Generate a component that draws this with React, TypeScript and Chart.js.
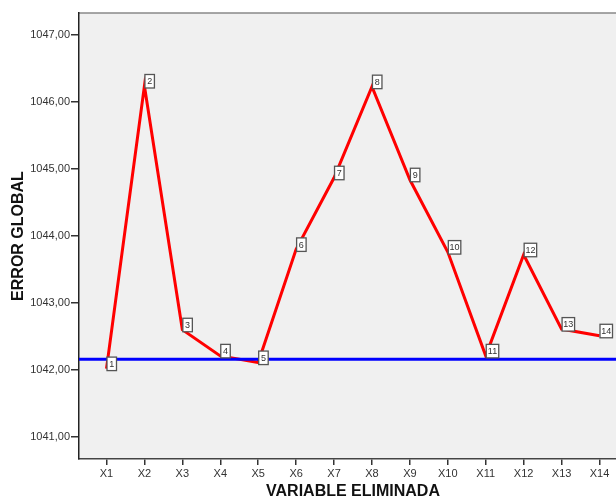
import React, { useEffect, useRef } from "react";
import { Chart, registerables } from "chart.js";

Chart.register(...registerables);

const categories = ["X1", "X2", "X3", "X4", "X5", "X6", "X7", "X8", "X9", "X10", "X11", "X12", "X13", "X14"];
const errorValues = [1042.02, 1046.24, 1042.6, 1042.21, 1042.11, 1043.8, 1044.87, 1046.23, 1044.84, 1043.76, 1042.21, 1043.72, 1042.61, 1042.51];
const pointLabels = ["1", "2", "3", "4", "5", "6", "7", "8", "9", "10", "11", "12", "13", "14"];
const referenceValue = 1042.16;
const yTicks = [1041, 1042, 1043, 1044, 1045, 1046, 1047];

const X_MIN = 0.275;
const X_MAX = 14.725;
const Y_MIN = 1040.67;
const Y_MAX = 1047.33;
const FONT = "'Liberation Sans', Arial, sans-serif";

const bgPlugin = {
  id: "bgPlugin",
  beforeDraw(chart: any) {
    const { ctx, chartArea } = chart;
    ctx.save();
    ctx.fillStyle = "#f0f0f0";
    ctx.fillRect(chartArea.left, chartArea.top, chartArea.right - chartArea.left, chartArea.bottom - chartArea.top);
    ctx.strokeStyle = "#888888";
    ctx.lineWidth = 1.5;
    ctx.beginPath();
    ctx.moveTo(chartArea.left, chartArea.top);
    ctx.lineTo(chartArea.right, chartArea.top);
    ctx.stroke();
    ctx.restore();
  },
};

const labelPlugin = {
  id: "labelPlugin",
  afterDatasetsDraw(chart: any) {
    const { ctx } = chart;
    const meta = chart.getDatasetMeta(0);
    ctx.save();
    ctx.font = `9px ${FONT}`;
    ctx.textAlign = "center";
    ctx.textBaseline = "middle";
    meta.data.forEach((pt: any, i: number) => {
      const text = pointLabels[i];
      const w = text.length > 1 ? 12.5 : 9.5;
      const h = 13.5;
      const left = pt.x + 0.5;
      const bottom = pt.y + 2;
      ctx.fillStyle = "#ffffff";
      ctx.fillRect(left, bottom - h, w, h);
      ctx.strokeStyle = "#555555";
      ctx.lineWidth = 1.3;
      ctx.strokeRect(left, bottom - h, w, h);
      ctx.fillStyle = "#333333";
      ctx.fillText(text, left + w / 2, bottom - h / 2 + 0.5);
    });
    ctx.restore();
  },
};

export default function App() {
  const canvasRef = useRef<HTMLCanvasElement | null>(null);

  useEffect(() => {
    if (!canvasRef.current) return;
    const chart = new Chart(canvasRef.current, {
      type: "line",
      data: {
        datasets: [
          {
            label: "Error global",
            data: errorValues.map((v, i) => ({ x: i + 1, y: v })),
            borderColor: "#ff0000",
            borderWidth: 3,
            pointRadius: 0,
            tension: 0,
            order: 2,
          },
          {
            label: "Referencia",
            data: [
              { x: X_MIN, y: referenceValue },
              { x: X_MAX, y: referenceValue },
            ],
            borderColor: "#0000ff",
            borderWidth: 3,
            pointRadius: 0,
            order: 1,
          },
        ],
      },
      options: {
        responsive: false,
        animation: false,
        layout: { padding: { top: 13, left: 0, right: 0, bottom: 0 } },
        plugins: {
          legend: { display: false },
          tooltip: { enabled: false },
        },
        scales: {
          x: {
            type: "linear",
            min: X_MIN,
            max: X_MAX,
            afterBuildTicks: (scale: any) => {
              scale.ticks = categories.map((_, i) => ({ value: i + 1 }));
            },
            afterFit: (scale: any) => {
              scale.height = 41;
            },
            ticks: {
              autoSkip: false,
              maxRotation: 0,
              padding: 2,
              color: "#333333",
              font: { family: FONT, size: 11 },
              callback: (value: any) => categories[Math.round(Number(value)) - 1] ?? "",
            },
            grid: {
              drawOnChartArea: false,
              drawTicks: true,
              tickLength: 6,
              color: "#333333",
              lineWidth: 1.5,
            },
            border: { display: true, color: "#444444", width: 1.5 },
            title: {
              display: true,
              text: "VARIABLE ELIMINADA",
              color: "#111111",
              font: { family: FONT, size: 16, weight: "bold", lineHeight: 1 },
              padding: { top: 0, bottom: 0 },
            },
          },
          y: {
            type: "linear",
            min: Y_MIN,
            max: Y_MAX,
            afterBuildTicks: (scale: any) => {
              scale.ticks = yTicks.map((v) => ({ value: v }));
            },
            afterFit: (scale: any) => {
              scale.width = 79;
            },
            ticks: {
              padding: 1,
              color: "#333333",
              font: { family: FONT, size: 11 },
              callback: (value: any) => Number(value).toFixed(2).replace(".", ","),
            },
            grid: {
              drawOnChartArea: false,
              drawTicks: true,
              tickLength: 8,
              color: "#333333",
              lineWidth: 1.5,
            },
            border: { display: true, color: "#222222", width: 1.5 },
            title: {
              display: true,
              text: "ERROR GLOBAL",
              color: "#111111",
              font: { family: FONT, size: 16, weight: "bold", lineHeight: 1 },
              padding: { top: 11, bottom: 0 },
            },
          },
        },
      },
      plugins: [bgPlugin, labelPlugin],
    });
    return () => chart.destroy();
  }, []);

  return (
    <div style={{ position: "fixed", left: 0, top: 0, width: 616, height: 500, overflow: "hidden", background: "#ffffff" }}>
      <canvas ref={canvasRef} width={627} height={500} style={{ display: "block" }} />
    </div>
  );
}
